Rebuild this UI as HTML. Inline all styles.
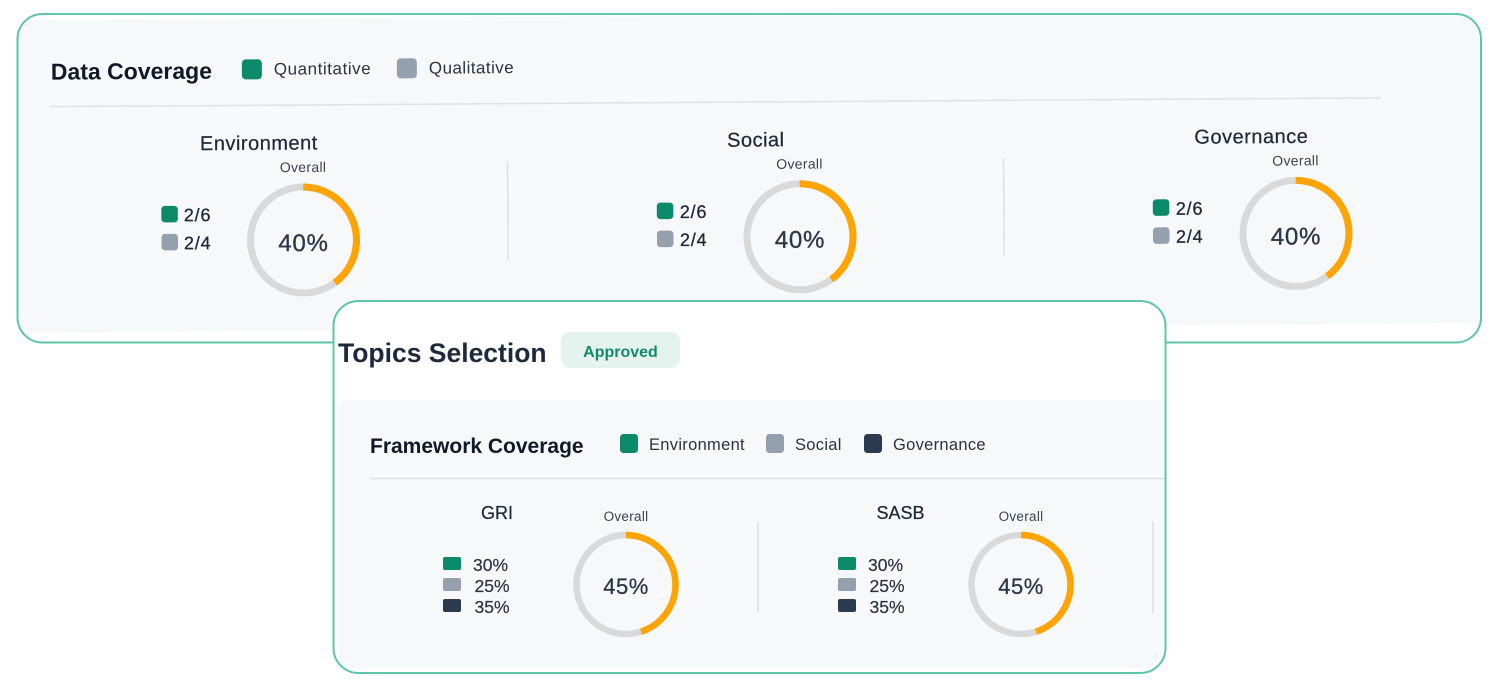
<!DOCTYPE html>
<html>
<head>
<meta charset="utf-8">
<style>
  html,body{margin:0;padding:0;background:#ffffff;}
  body{width:1494px;height:694px;overflow:hidden;}
  svg{display:block;font-family:"Liberation Sans",Arial,sans-serif;}
</style>
</head>
<body>
<svg width="1494" height="694" viewBox="0 0 1494 694" xmlns="http://www.w3.org/2000/svg">
  <defs>
    <clipPath id="c1"><rect x="18" y="15" width="1462" height="327" rx="25"/></clipPath>
    <clipPath id="c2"><rect x="334.5" y="302" width="830" height="370" rx="24"/></clipPath>
  </defs>

  <!-- ============ CARD 1 : Data Coverage ============ -->
  <rect x="17.5" y="14" width="1463.5" height="328.5" rx="25" fill="#ffffff"/>
  <g clip-path="url(#c1)">
    <g transform="rotate(-0.38 303.5 240)">
      <rect x="0" y="18.5" width="1492" height="312.5" fill="#f7f8fa"/>

      <text x="52" y="78" font-size="23" font-weight="bold" fill="#111827">Data Coverage</text>

      <rect x="243" y="59" width="20" height="20" rx="4" fill="#0b8a69"/>
      <text x="275" y="74.5" font-size="17" letter-spacing="0.55" fill="#2b3340">Quantitative</text>
      <rect x="398" y="59" width="20" height="20" rx="4" fill="#94a0ae"/>
      <text x="430" y="74.5" font-size="17" letter-spacing="0.45" fill="#2b3340">Qualitative</text>

      <line x1="51" y1="105" x2="1382" y2="105" stroke="#dfe1e4" stroke-width="1.5"/>

      <line x1="508" y1="163" x2="508" y2="261" stroke="#dcdee1" stroke-width="1.5"/>
      <line x1="1004" y1="163" x2="1004" y2="261" stroke="#dcdee1" stroke-width="1.5"/>

      <!-- Environment -->
      <g>
        <text x="259.5" y="149.5" font-size="20" letter-spacing="0.5" text-anchor="middle" fill="#1f2937" stroke="#1f2937" stroke-width="0.25">Environment</text>
        <text x="303.5" y="172" font-size="14" letter-spacing="0.3" text-anchor="middle" fill="#3b4350">Overall</text>
        <rect x="161.5" y="205" width="16.5" height="16.5" rx="3.5" fill="#0b8a69"/>
        <rect x="161.5" y="233" width="16.5" height="16.5" rx="3.5" fill="#94a0ae"/>
        <text x="184" y="220.5" font-size="18" letter-spacing="0.8" fill="#1f2937" stroke="#1f2937" stroke-width="0.3">2/6</text>
        <text x="184" y="248.5" font-size="18" letter-spacing="0.8" fill="#1f2937" stroke="#1f2937" stroke-width="0.3">2/4</text>
        <circle cx="303.5" cy="240" r="53" fill="none" stroke="#d9d9d9" stroke-width="7"/>
        <circle cx="303.5" cy="240" r="53" fill="none" stroke="#ffa400" stroke-width="7" stroke-dasharray="133.2 400" transform="rotate(-90 303.5 240)"/>
        <text x="303.5" y="251" font-size="24" letter-spacing="0.8" text-anchor="middle" fill="#2d3748" stroke="#2d3748" stroke-width="0.35">40%</text>
      </g>

      <!-- Social -->
      <g>
        <text x="756.5" y="149.5" font-size="20" letter-spacing="0.5" text-anchor="middle" fill="#1f2937" stroke="#1f2937" stroke-width="0.25">Social</text>
        <text x="800" y="172" font-size="14" letter-spacing="0.3" text-anchor="middle" fill="#3b4350">Overall</text>
        <rect x="657" y="205" width="16.5" height="16.5" rx="3.5" fill="#0b8a69"/>
        <rect x="657" y="233" width="16.5" height="16.5" rx="3.5" fill="#94a0ae"/>
        <text x="680" y="220.5" font-size="18" letter-spacing="0.8" fill="#1f2937" stroke="#1f2937" stroke-width="0.3">2/6</text>
        <text x="680" y="248.5" font-size="18" letter-spacing="0.8" fill="#1f2937" stroke="#1f2937" stroke-width="0.3">2/4</text>
        <circle cx="800" cy="240" r="53" fill="none" stroke="#d9d9d9" stroke-width="7"/>
        <circle cx="800" cy="240" r="53" fill="none" stroke="#ffa400" stroke-width="7" stroke-dasharray="133.2 400" transform="rotate(-90 800 240)"/>
        <text x="800" y="251" font-size="24" letter-spacing="0.8" text-anchor="middle" fill="#2d3748" stroke="#2d3748" stroke-width="0.35">40%</text>
      </g>

      <!-- Governance -->
      <g>
        <text x="1252" y="149.5" font-size="20" letter-spacing="0.5" text-anchor="middle" fill="#1f2937" stroke="#1f2937" stroke-width="0.25">Governance</text>
        <text x="1296" y="172" font-size="14" letter-spacing="0.3" text-anchor="middle" fill="#3b4350">Overall</text>
        <rect x="1153" y="205" width="16.5" height="16.5" rx="3.5" fill="#0b8a69"/>
        <rect x="1153" y="233" width="16.5" height="16.5" rx="3.5" fill="#94a0ae"/>
        <text x="1176" y="220.5" font-size="18" letter-spacing="0.8" fill="#1f2937" stroke="#1f2937" stroke-width="0.3">2/6</text>
        <text x="1176" y="248.5" font-size="18" letter-spacing="0.8" fill="#1f2937" stroke="#1f2937" stroke-width="0.3">2/4</text>
        <circle cx="1296" cy="240" r="53" fill="none" stroke="#d9d9d9" stroke-width="7"/>
        <circle cx="1296" cy="240" r="53" fill="none" stroke="#ffa400" stroke-width="7" stroke-dasharray="133.2 400" transform="rotate(-90 1296 240)"/>
        <text x="1296" y="251" font-size="24" letter-spacing="0.8" text-anchor="middle" fill="#2d3748" stroke="#2d3748" stroke-width="0.35">40%</text>
      </g>
    </g>
  </g>
  <rect x="17.5" y="14" width="1463.5" height="328.5" rx="25" fill="none" stroke="#5ec5a6" stroke-width="2"/>

  <!-- ============ CARD 2 : Topics Selection ============ -->
  <rect x="333.5" y="301" width="832" height="372" rx="25" fill="#ffffff"/>
  <g clip-path="url(#c2)">
    <text x="338" y="362" font-size="26.5" font-weight="bold" fill="#1e293b">Topics Selection</text>
    <rect x="561" y="332" width="119" height="36" rx="9" fill="#e4f3ee"/>
    <text x="620.5" y="357" font-size="16" font-weight="bold" text-anchor="middle" fill="#138a67">Approved</text>

    <rect x="338" y="400" width="850" height="268" rx="10" fill="#f7f8fa"/>

    <text x="370" y="453" font-size="21" font-weight="bold" fill="#111827">Framework Coverage</text>
    <rect x="620" y="434" width="18" height="19" rx="3.5" fill="#0b8a69"/>
    <text x="649" y="450" font-size="16.5" letter-spacing="0.3" fill="#2b3340">Environment</text>
    <rect x="766" y="434" width="18" height="19" rx="3.5" fill="#94a0ae"/>
    <text x="795" y="450" font-size="16.5" letter-spacing="0.3" fill="#2b3340">Social</text>
    <rect x="864" y="434" width="18" height="19" rx="3.5" fill="#2b3a4e"/>
    <text x="893" y="450" font-size="16.5" letter-spacing="0.3" fill="#2b3340">Governance</text>

    <line x1="370" y1="478.5" x2="1170" y2="478.5" stroke="#dcdee1" stroke-width="1.5"/>

    <line x1="758" y1="522" x2="758" y2="613" stroke="#dcdee1" stroke-width="1.5"/>
    <line x1="1153" y1="522" x2="1153" y2="613" stroke="#dcdee1" stroke-width="1.5"/>

    <!-- GRI -->
    <text x="497" y="519" font-size="18" text-anchor="middle" fill="#1f2937" stroke="#1f2937" stroke-width="0.25">GRI</text>
    <text x="626" y="521" font-size="13.5" letter-spacing="0.3" text-anchor="middle" fill="#3b4350">Overall</text>
    <rect x="443" y="557" width="18" height="13" rx="2" fill="#0b8a69"/>
    <rect x="443" y="578" width="18" height="13" rx="2" fill="#94a0ae"/>
    <rect x="443" y="599" width="18" height="13" rx="2" fill="#2b3a4e"/>
    <text x="473" y="571" font-size="17.5" fill="#2b3340" stroke="#2b3340" stroke-width="0.2">30%</text>
    <text x="474.5" y="592" font-size="17.5" fill="#2b3340" stroke="#2b3340" stroke-width="0.2">25%</text>
    <text x="474.5" y="613" font-size="17.5" fill="#2b3340" stroke="#2b3340" stroke-width="0.2">35%</text>
    <circle cx="626" cy="584.5" r="49.5" fill="none" stroke="#d9d9d9" stroke-width="6.5"/>
    <circle cx="626" cy="584.5" r="49.5" fill="none" stroke="#ffa400" stroke-width="6.5" stroke-dasharray="140 400" transform="rotate(-90 626 584.5)"/>
    <text x="626" y="594" font-size="22" letter-spacing="0.5" text-anchor="middle" fill="#2d3748" stroke="#2d3748" stroke-width="0.3">45%</text>

    <!-- SASB -->
    <text x="900.5" y="519" font-size="18" text-anchor="middle" fill="#1f2937" stroke="#1f2937" stroke-width="0.25">SASB</text>
    <text x="1021" y="521" font-size="13.5" letter-spacing="0.3" text-anchor="middle" fill="#3b4350">Overall</text>
    <rect x="838" y="557" width="18" height="13" rx="2" fill="#0b8a69"/>
    <rect x="838" y="578" width="18" height="13" rx="2" fill="#94a0ae"/>
    <rect x="838" y="599" width="18" height="13" rx="2" fill="#2b3a4e"/>
    <text x="868" y="571" font-size="17.5" fill="#2b3340" stroke="#2b3340" stroke-width="0.2">30%</text>
    <text x="869.5" y="592" font-size="17.5" fill="#2b3340" stroke="#2b3340" stroke-width="0.2">25%</text>
    <text x="869.5" y="613" font-size="17.5" fill="#2b3340" stroke="#2b3340" stroke-width="0.2">35%</text>
    <circle cx="1021" cy="584.5" r="49.5" fill="none" stroke="#d9d9d9" stroke-width="6.5"/>
    <circle cx="1021" cy="584.5" r="49.5" fill="none" stroke="#ffa400" stroke-width="6.5" stroke-dasharray="140 400" transform="rotate(-90 1021 584.5)"/>
    <text x="1021" y="594" font-size="22" letter-spacing="0.5" text-anchor="middle" fill="#2d3748" stroke="#2d3748" stroke-width="0.3">45%</text>
  </g>
  <rect x="333.5" y="301" width="832" height="372" rx="25" fill="none" stroke="#5ec5a6" stroke-width="2"/>
</svg>
</body>
</html>
